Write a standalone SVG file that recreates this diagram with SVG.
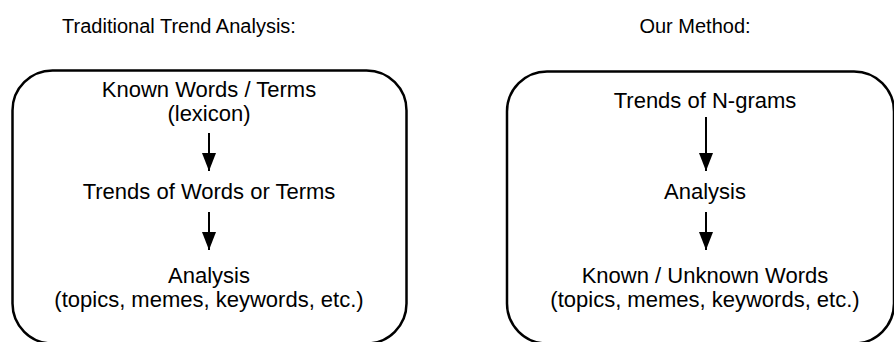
<svg xmlns="http://www.w3.org/2000/svg" width="894" height="342" viewBox="0 0 894 342">
<style>
text{font-family:"Liberation Sans",Arial,sans-serif;fill:#000;text-anchor:middle}
.t{font-size:20px}
.n{font-size:22px}
.box{fill:none;stroke:#000;stroke-width:2.5}
.c{stroke:#000;stroke-width:2;fill:none}
</style>
<defs>
<marker id="ah" markerUnits="userSpaceOnUse" markerWidth="18" markerHeight="14" refX="18" refY="7" orient="auto" viewBox="0 0 18 14">
<path d="M0,0 L18,7 L0,14 Z" fill="#000"/>
</marker>
</defs>
<g id="title-left"><text class="t" x="179" y="33">Traditional Trend Analysis:</text></g>
<g id="title-right"><text class="t" x="695" y="33">Our Method:</text></g>
<g id="box-left"><rect class="box" x="12.5" y="70.5" width="394" height="273" rx="40" ry="40"/></g>
<g id="box-right"><rect class="box" x="507" y="71.5" width="387" height="272" rx="40" ry="40"/></g>
<g id="l1"><text class="n" x="209" y="97">Known Words / Terms</text><text class="n" x="209" y="121">(lexicon)</text></g>
<g id="l2"><text class="n" x="209" y="199">Trends of Words or Terms</text></g>
<g id="l3"><text class="n" x="209" y="283">Analysis</text><text class="n" x="209" y="307">(topics, memes, keywords, etc.)</text></g>
<g id="r1"><text class="n" x="705" y="108">Trends of N-grams</text></g>
<g id="r2"><text class="n" x="705" y="199">Analysis</text></g>
<g id="r3"><text class="n" x="705" y="283">Known / Unknown Words</text><text class="n" x="705" y="307">(topics, memes, keywords, etc.)</text></g>
<g id="connectors">
<line class="c" x1="209" y1="133" x2="209" y2="171" marker-end="url(#ah)"/>
<line class="c" x1="209" y1="212" x2="209" y2="250" marker-end="url(#ah)"/>
<line class="c" x1="706" y1="117" x2="706" y2="171" marker-end="url(#ah)"/>
<line class="c" x1="706" y1="212" x2="706" y2="250" marker-end="url(#ah)"/>
</g>
</svg>
